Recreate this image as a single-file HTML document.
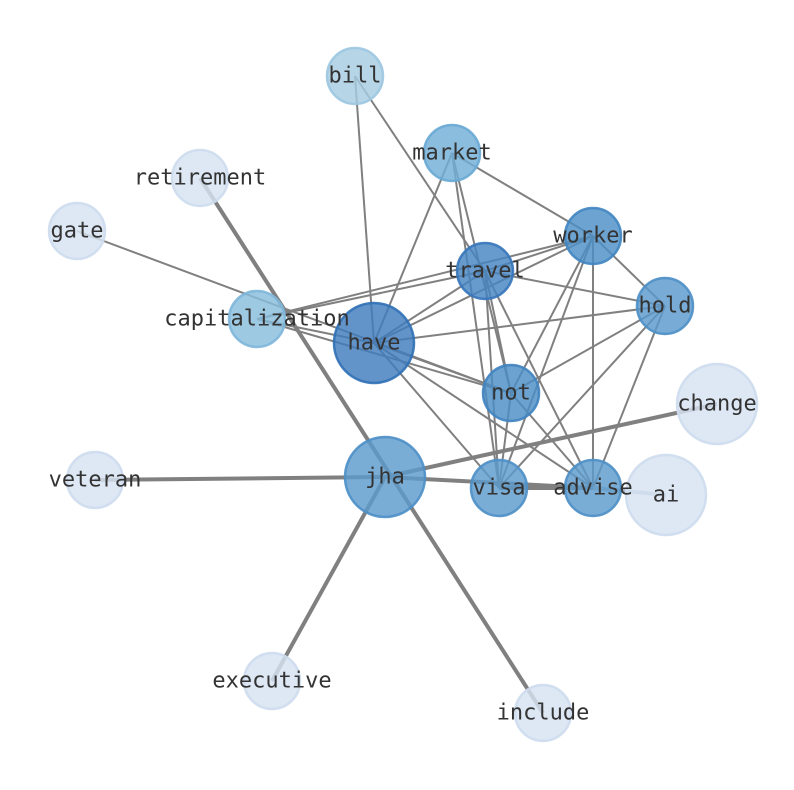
<!DOCTYPE html>
<html><head><meta charset="utf-8"><style>html,body{margin:0;padding:0;background:#fff}svg{display:block}</style></head>
<body>
<svg width="794" height="790" viewBox="0 0 794 790" xmlns="http://www.w3.org/2000/svg">
<g stroke="#808080" stroke-width="2" fill="none">
<line x1="355" y1="76" x2="374" y2="343"/>
<line x1="355" y1="76" x2="485" y2="271"/>
<line x1="452" y1="153" x2="374" y2="343"/>
<line x1="452" y1="153" x2="593" y2="236"/>
<line x1="452" y1="153" x2="511" y2="393"/>
<line x1="452" y1="153" x2="499" y2="488"/>
<line x1="485" y1="271" x2="593" y2="236"/>
<line x1="485" y1="271" x2="665" y2="306"/>
<line x1="485" y1="271" x2="257" y2="319"/>
<line x1="485" y1="271" x2="374" y2="343"/>
<line x1="485" y1="271" x2="511" y2="393"/>
<line x1="485" y1="271" x2="499" y2="488"/>
<line x1="485" y1="271" x2="593" y2="488"/>
<line x1="593" y1="236" x2="374" y2="343"/>
<line x1="593" y1="236" x2="257" y2="319"/>
<line x1="593" y1="236" x2="665" y2="306"/>
<line x1="593" y1="236" x2="499" y2="488"/>
<line x1="593" y1="236" x2="511" y2="393"/>
<line x1="593" y1="236" x2="593" y2="488"/>
<line x1="665" y1="306" x2="374" y2="343"/>
<line x1="665" y1="306" x2="511" y2="393"/>
<line x1="665" y1="306" x2="499" y2="488"/>
<line x1="665" y1="306" x2="593" y2="488"/>
<line x1="257" y1="319" x2="374" y2="343"/>
<line x1="257" y1="319" x2="511" y2="393"/>
<line x1="77" y1="231" x2="511" y2="393"/>
<line x1="374" y1="343" x2="511" y2="393"/>
<line x1="374" y1="343" x2="499" y2="488"/>
<line x1="374" y1="343" x2="593" y2="488"/>
<line x1="511" y1="393" x2="499" y2="488"/>
<line x1="511" y1="393" x2="593" y2="488"/>
</g>
<g stroke="#808080" stroke-width="4" fill="none">
<line x1="200" y1="178" x2="543" y2="713"/>
<line x1="95" y1="480" x2="385" y2="477"/>
<line x1="385" y1="477" x2="717" y2="404"/>
<line x1="385" y1="477" x2="593" y2="488"/>
<line x1="385" y1="477" x2="272" y2="681"/>
<line x1="499" y1="488" x2="593" y2="488"/>
</g>
<line x1="593" y1="488" x2="666" y2="495" stroke="#b0bccb" stroke-width="4"/>
<g stroke-width="2.5" fill-opacity="0.82" stroke-opacity="0.9">
<circle cx="355" cy="76" r="28" fill="#a6cde3" stroke="#9cc6e0"/>
<circle cx="452" cy="153" r="28" fill="#72afd7" stroke="#68a8d4"/>
<circle cx="200" cy="178" r="28" fill="#d6e3f2" stroke="#cddcee"/>
<circle cx="77" cy="231" r="28" fill="#d6e3f2" stroke="#cddcee"/>
<circle cx="593" cy="236" r="28" fill="#4c8fc6" stroke="#4085c1"/>
<circle cx="257" cy="319" r="28" fill="#88bddd" stroke="#7eb6da"/>
<circle cx="374" cy="343" r="40" fill="#3f7cbd" stroke="#3070b5"/>
<circle cx="485" cy="271" r="28" fill="#4684c2" stroke="#3676ba"/>
<circle cx="665" cy="306" r="28" fill="#5a9acd" stroke="#4c8fc6"/>
<circle cx="511" cy="393" r="28" fill="#4b8dc5" stroke="#4083c0"/>
<circle cx="717" cy="404" r="40" fill="#d6e3f2" stroke="#cddcee"/>
<circle cx="95" cy="480" r="28" fill="#d6e3f2" stroke="#cddcee"/>
<circle cx="385" cy="477" r="40" fill="#5d9bcc" stroke="#4c8fc6"/>
<circle cx="499" cy="488" r="28" fill="#5d9bcc" stroke="#4c8fc6"/>
<circle cx="593" cy="488" r="28" fill="#5d9bcc" stroke="#4c8fc6"/>
<circle cx="666" cy="495" r="40" fill="#d6e3f2" stroke="#cddcee"/>
<circle cx="272" cy="681" r="28" fill="#d6e3f2" stroke="#cddcee"/>
<circle cx="543" cy="713" r="28" fill="#d6e3f2" stroke="#cddcee"/>
</g>
<g font-family="'DejaVu Sans Mono','Liberation Mono',monospace" font-size="22" fill="#333" text-anchor="middle" dominant-baseline="central">
<text x="355" y="76">bill</text>
<text x="452" y="153">market</text>
<text x="200" y="178">retirement</text>
<text x="77" y="231">gate</text>
<text x="593" y="236">worker</text>
<text x="485" y="271">travel</text>
<text x="665" y="306">hold</text>
<text x="257" y="319">capitalization</text>
<text x="374" y="343">have</text>
<text x="511" y="393">not</text>
<text x="717" y="404">change</text>
<text x="95" y="480">veteran</text>
<text x="385" y="477">jha</text>
<text x="499" y="488">visa</text>
<text x="593" y="488">advise</text>
<text x="666" y="495">ai</text>
<text x="272" y="681">executive</text>
<text x="543" y="713">include</text>
</g>
</svg>
</body></html>
